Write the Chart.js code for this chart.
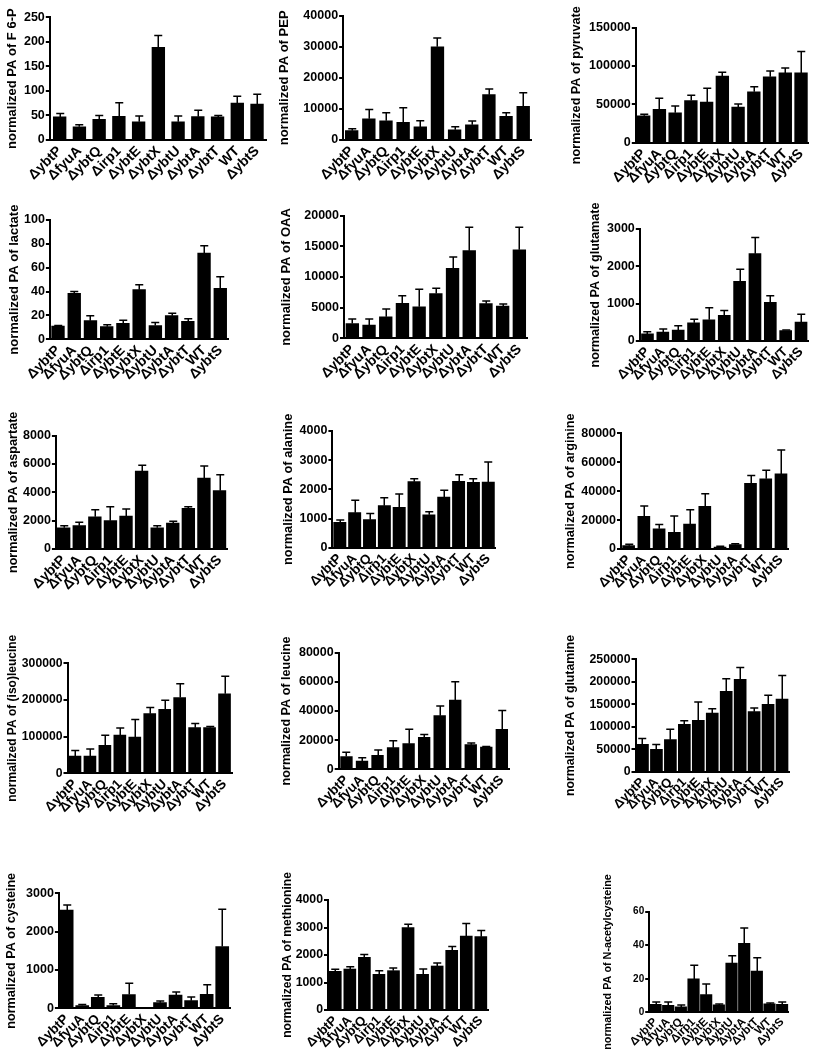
<!DOCTYPE html>
<html><head><meta charset="utf-8">
<script src="https://cdn.jsdelivr.net/npm/chart.js@4.4.1/dist/chart.umd.min.js"></script>
<style>
html,body{margin:0;padding:0;background:#fff;}
body{width:815px;height:1050px;overflow:hidden;position:relative;}
canvas.p{position:absolute;}
</style></head><body>
<script>
const categories = ["ΔybtP","ΔfyuA","ΔybtQ","Δirp1","ΔybtE","ΔybtX","ΔybtU","ΔybtA","ΔybtT","WT","ΔybtS"];

const f6pMean = [47, 27, 42, 48, 37, 189, 37, 47.5, 47, 75, 73];
const f6pErr  = [7, 4, 8, 28, 12, 24, 12, 13, 3, 14, 20];
const pepMean = [3000, 6800, 6200, 5700, 4200, 30000, 3300, 4900, 14600, 7600, 10800];
const pepErr  = [600, 3000, 2600, 4700, 2000, 2800, 1000, 1200, 1800, 1200, 4400];
const pyruvateMean = [35000, 43500, 39000, 55000, 53000, 87000, 46500, 66500, 86000, 91000, 91000];
const pyruvateErr  = [2000, 14500, 9000, 7000, 18000, 5000, 4000, 6500, 7500, 6500, 28000];
const lactateMean = [11, 38.5, 15.6, 10.6, 13.4, 41.6, 11.5, 19.8, 15, 72.3, 42.7];
const lactateErr  = [0.5, 1.5, 4.2, 1.7, 2.5, 4.2, 2.5, 2, 2.3, 6.2, 9.8];
const oaaMean = [2400, 2150, 3500, 5700, 5150, 7300, 11400, 14300, 5650, 5250, 14450];
const oaaErr  = [750, 1000, 1300, 1250, 2850, 850, 1850, 3800, 450, 350, 3650];
const glutamateMean = [190, 240, 295, 490, 570, 690, 1600, 2340, 1035, 277, 510];
const glutamateErr  = [60, 80, 115, 90, 320, 125, 320, 430, 180, 18, 205];
const aspartateMean = [1500, 1650, 2280, 2000, 2330, 5500, 1500, 1835, 2870, 5010, 4120];
const aspartateErr  = [140, 230, 500, 990, 490, 420, 140, 120, 120, 850, 1130];
const alanineMean = [870, 1200, 960, 1440, 1380, 2263, 1130, 1737, 2274, 2240, 2250];
const alanineErr  = [80, 430, 215, 275, 460, 100, 100, 230, 230, 125, 685];
const arginineMean = [2300, 22600, 14000, 11500, 17300, 29500, 1400, 3000, 45400, 48600, 51900];
const arginineErr  = [900, 7150, 3000, 11300, 9900, 8750, 450, 700, 5500, 5800, 16600];
const isoleucineMean = [47000, 47000, 76000, 104500, 99000, 162700, 174500, 206400, 124500, 124500, 217000];
const isoleucineErr  = [15500, 19000, 27500, 19000, 47500, 16500, 24500, 38000, 11000, 3000, 48000];
const leucineMean = [8700, 5700, 9600, 14850, 17600, 22000, 36800, 47500, 16900, 15300, 27400];
const leucineErr  = [3000, 2300, 3650, 4800, 9800, 1850, 6600, 12600, 1150, 300, 13000];
const glutamineMean = [61000, 49700, 71200, 105300, 114000, 130500, 178800, 205500, 133500, 150000, 161700];
const glutamineErr  = [12600, 11000, 23000, 8200, 41000, 9700, 28000, 26000, 8200, 20000, 52000];
const cysteineMean = [2565, 70, 287, 70, 357, 0, 148, 348, 200, 365, 1610];
const cysteineErr  = [130, 26, 60, 50, 295, 0, 45, 80, 95, 250, 975];
const methionineMean = [1406, 1490, 1915, 1297, 1430, 2994, 1297, 1600, 2170, 2690, 2667];
const methionineErr  = [75, 85, 100, 130, 100, 120, 195, 110, 135, 460, 220];
const nacMean = [4.8, 4.2, 3.2, 19.9, 10.5, 4.4, 29.4, 41.1, 24.6, 5, 4.8];
const nacErr  = [1.4, 2, 1.2, 8.1, 6.4, 0.6, 4.4, 9.2, 8, 0.6, 1.4];

const panelTitles = [
  "normalized PA of F 6-P", "normalized PA of PEP", "normalized PA of pyruvate",
  "normalized PA of lactate", "normalized PA of OAA", "normalized PA of glutamate",
  "normalized PA of aspartate", "normalized PA of alanine", "normalized PA of arginine",
  "normalized PA of (iso)leucine", "normalized PA of leucine", "normalized PA of glutamine",
  "normalized PA of cysteine", "normalized PA of methionine", "normalized PA of N-acetylcysteine"
];
const yMax  = [250, 40000, 150000, 100, 20000, 3000, 8000, 4000, 80000, 300000, 80000, 250000, 3000, 4000, 60];
const yStep = [50, 10000, 50000, 20, 5000, 1000, 2000, 1000, 20000, 100000, 20000, 50000, 1000, 1000, 20];

const means = [f6pMean, pepMean, pyruvateMean, lactateMean, oaaMean, glutamateMean, aspartateMean, alanineMean,
  arginineMean, isoleucineMean, leucineMean, glutamineMean, cysteineMean, methionineMean, nacMean];
const errors = [f6pErr, pepErr, pyruvateErr, lactateErr, oaaErr, glutamateErr, aspartateErr, alanineErr,
  arginineErr, isoleucineErr, leucineErr, glutamineErr, cysteineErr, methionineErr, nacErr];

// layout (pixel geometry of each panel)
const panelLayout = [
  {titleX: 13,    axisX: 49.8,  yTop: 17.3,  y0: 140,    xEnd: 266.9, fs: 12.5, xf: 14,   tf: 13,   bar: 12.7},
  {titleX: 285,   axisX: 343.1, yTop: 15.7,  y0: 140,    xEnd: 531.8, fs: 12.5, xf: 14,   tf: 13,   bar: 12.7},
  {titleX: 577,   axisX: 635.8, yTop: 27.7,  y0: 142.7,  xEnd: 808.9, fs: 12.5, xf: 14,   tf: 12.6, bar: 12.7},
  {titleX: 15,    axisX: 49.9,  yTop: 220,   y0: 339.3,  xEnd: 228.4, fs: 12.5, xf: 14,   tf: 13,   bar: 12.7},
  {titleX: 287,   axisX: 344,   yTop: 215.7, y0: 338.3,  xEnd: 527.7, fs: 12.5, xf: 14,   tf: 13,   bar: 12.7},
  {titleX: 595.7, axisX: 639.8, yTop: 229,   y0: 341,    xEnd: 808.7, fs: 12.5, xf: 13.5, tf: 12.6, bar: 12},
  {titleX: 13.3,  axisX: 55.9,  yTop: 435.7, y0: 549,    xEnd: 227.3, fs: 12.5, xf: 14,   tf: 12.6, bar: 12.7},
  {titleX: 288.7, axisX: 332.4, yTop: 431,   y0: 547.7,  xEnd: 495.7, fs: 12.5, xf: 13.5, tf: 12.8, bar: 12.3},
  {titleX: 571,   axisX: 621,   yTop: 433.3, y0: 549,    xEnd: 788.6, fs: 12.5, xf: 13.5, tf: 12.7, bar: 12},
  {titleX: 11.7,  axisX: 67.5,  yTop: 663.3, y0: 773.3,  xEnd: 232,   fs: 12.2, xf: 13.5, tf: 12,   bar: 12},
  {titleX: 287,   axisX: 338.7, yTop: 652.7, y0: 769.3,  xEnd: 509.6, fs: 12.5, xf: 13.5, tf: 12.6, bar: 11.7},
  {titleX: 570.3, axisX: 635.5, yTop: 659.3, y0: 771.7,  xEnd: 789,   fs: 12.3, xf: 13,   tf: 12.3, bar: 12},
  {titleX: 11.7,  axisX: 58.9,  yTop: 893.3, y0: 1008.3, xEnd: 230,   fs: 12.5, xf: 13.5, tf: 12.6, bar: 13},
  {titleX: 287,   axisX: 328,   yTop: 900,   y0: 1010,   xEnd: 488.1, fs: 12.3, xf: 13,   tf: 12.1, bar: 12},
  {titleX: 608.7, axisX: 649.2, yTop: 911.7, y0: 1012.3, xEnd: 788.5, fs: 10,   xf: 11.5, tf: 10.8, bar: 11.5}
];

const FONT = "'Liberation Sans', Arial, Helvetica, sans-serif";

const errorBarPlugin = {
  id: 'errorBars',
  afterDatasetsDraw(chart, args, opts) {
    const errs = opts.errors;
    if (!errs) return;
    const meta = chart.getDatasetMeta(0);
    const ys = chart.scales.y;
    const vals = chart.data.datasets[0].data;
    const ctx = chart.ctx;
    ctx.save();
    ctx.strokeStyle = '#000';
    ctx.lineWidth = opts.lineWidth;
    meta.data.forEach((bar, i) => {
      const e = errs[i];
      if (!e) return;
      const x = Math.round(bar.x) + 0.25;
      const yb = ys.getPixelForValue(vals[i]);
      const yt = ys.getPixelForValue(vals[i] + e);
      ctx.beginPath();
      ctx.moveTo(x, yb);
      ctx.lineTo(x, yt);
      ctx.moveTo(x - opts.cap / 2, yt);
      ctx.lineTo(x + opts.cap / 2, yt);
      ctx.stroke();
    });
    ctx.restore();
  }
};

panelLayout.forEach((g, i) => {
  const titlePad = 1;
  const lineH = g.tf * 1.2;
  const L = Math.round(g.titleX - titlePad - lineH / 2);
  const T = Math.round(g.yTop - 55);
  const padTop = g.yTop - T;
  const H = Math.round(padTop + (g.y0 - g.yTop) + 75);
  const HX = T + H - g.y0;
  const Wc = Math.round(g.xEnd - L + 12);
  const padRight = L + Wc - g.xEnd;
  const YW = g.axisX - L;

  const cv = document.createElement('canvas');
  cv.className = 'p';
  cv.width = Wc; cv.height = H;
  cv.style.left = L + 'px'; cv.style.top = T + 'px';
  cv.style.width = Wc + 'px'; cv.style.height = H + 'px';
  document.body.appendChild(cv);

  new Chart(cv, {
    type: 'bar',
    data: {
      labels: categories,
      datasets: [{ data: means[i], backgroundColor: '#000', borderWidth: 0, barThickness: g.bar }]
    },
    plugins: [errorBarPlugin],
    options: {
      responsive: false,
      animation: false,
      devicePixelRatio: 1,
      layout: { padding: { top: padTop, right: padRight, bottom: 0, left: 0 } },
      plugins: {
        legend: { display: false },
        tooltip: { enabled: false },
        errorBars: { errors: errors[i], cap: 8, lineWidth: 1.5 }
      },
      scales: {
        x: {
          offset: true,
          grid: { display: false, drawTicks: false },
          border: { display: true, color: '#000', width: 2 },
          ticks: {
            autoSkip: false, minRotation: 45, maxRotation: 45, padding: 3,
            color: '#000', font: { family: FONT, size: g.xf, weight: 'bold' }
          },
          afterFit: s => { s.height = HX; }
        },
        y: {
          min: 0, max: yMax[i],
          grid: { display: true, drawOnChartArea: false, drawTicks: true, tickLength: 4, color: '#000', lineWidth: 2 },
          border: { display: true, color: '#000', width: 2 },
          ticks: {
            stepSize: yStep[i], padding: 1, color: '#000',
            font: { family: FONT, size: g.fs, weight: 'bold' },
            callback: v => String(v)
          },
          title: {
            display: true, text: panelTitles[i], color: '#000',
            font: { family: FONT, size: g.tf, weight: 'bold' },
            padding: { top: titlePad, bottom: 0 }
          },
          afterFit: s => { s.width = YW; }
        }
      }
    }
  });
});
</script>
</body></html>
